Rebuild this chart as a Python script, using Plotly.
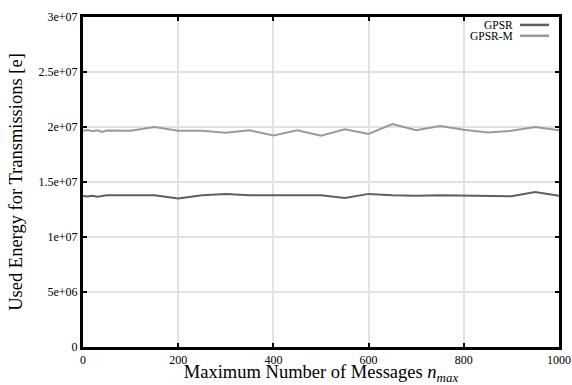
import plotly.graph_objects as go

x_vals = [0, 10, 20, 30, 40, 50, 100, 150, 200, 250, 300, 350, 400, 450, 500,
          550, 600, 650, 700, 750, 800, 850, 900, 950, 1000]
gpsr = [13.72e6, 13.68e6, 13.75e6, 13.66e6, 13.72e6, 13.8e6, 13.8e6, 13.8e6, 13.5e6,
        13.8e6, 13.92e6, 13.8e6, 13.8e6, 13.8e6, 13.8e6, 13.55e6, 13.92e6, 13.8e6,
        13.75e6, 13.8e6, 13.78e6, 13.7e6, 13.7e6, 14.08e6, 13.75e6]
gpsr_m = [19.66e6, 19.72e6, 19.62e6, 19.7e6, 19.55e6, 19.68e6, 19.66e6, 20.0e6, 19.66e6,
          19.66e6, 19.48e6, 19.7e6, 19.24e6, 19.7e6, 19.2e6, 19.8e6, 19.36e6, 20.27e6,
          19.7e6, 20.1e6, 19.75e6, 19.5e6, 19.65e6, 20.0e6, 19.7e6]
series_names = ["GPSR", "GPSR-M"]
series_colors = ["#5f5f5f", "#9a9a9a"]
y_tickvals = [0, 5e6, 1e7, 1.5e7, 2e7, 2.5e7, 3e7]
y_ticktext = ["0", "5e+06", "1e+07", "1.5e+07", "2e+07", "2.5e+07", "3e+07"]
x_tickvals = [0, 200, 400, 600, 800, 1000]

font_fam = "Liberation Serif"

fig = go.Figure()
for name, ys, col in zip(series_names, [gpsr, gpsr_m], series_colors):
    fig.add_trace(go.Scatter(x=x_vals, y=ys, mode="lines", name=name,
                             line=dict(color=col, width=2), showlegend=False))

# manual legend (text left of line, gnuplot style)
legend_y = [0.976, 0.943]
for name, col, ypos in zip(series_names, series_colors, legend_y):
    fig.add_annotation(x=0.908, y=ypos, xref="paper", yref="paper", text=name,
                       showarrow=False, xanchor="right", yanchor="middle",
                       font=dict(family=font_fam, size=11.5, color="black"))
    fig.add_shape(type="line", xref="paper", yref="paper",
                  x0=0.918, x1=0.979, y0=ypos, y1=ypos,
                  line=dict(color=col, width=2.5))

axis_common = dict(showgrid=True, gridcolor="#e2e2e2", gridwidth=2,
                   showline=True, linecolor="black", linewidth=3, mirror="ticks",
                   ticks="inside", ticklen=4, tickwidth=2, tickcolor="black",
                   zeroline=False, automargin=False, layer="above traces",
                   tickfont=dict(family=font_fam, size=12, color="black"))

fig.update_xaxes(range=[0, 1000], tickvals=x_tickvals, **axis_common,
                 title=dict(text="Maximum Number of Messages <i>n</i><sub><i>max</i></sub>",
                            font=dict(family=font_fam, size=18.5, color="black"), standoff=6))
fig.update_yaxes(range=[0, 3e7], tickvals=y_tickvals, ticktext=y_ticktext, **axis_common,
                 title=dict(text="Used Energy for Transmissions [e]",
                            font=dict(family=font_fam, size=18.5, color="black"), standoff=12))

fig.update_layout(width=572, height=385, margin=dict(l=83, r=13, t=17, b=38),
                  plot_bgcolor="white", paper_bgcolor="white",
                  font=dict(family=font_fam))

fig.write_html("out.html", config={"displayModeBar": False},
               post_script="document.body.style.margin='0';document.body.style.overflow='hidden';")
